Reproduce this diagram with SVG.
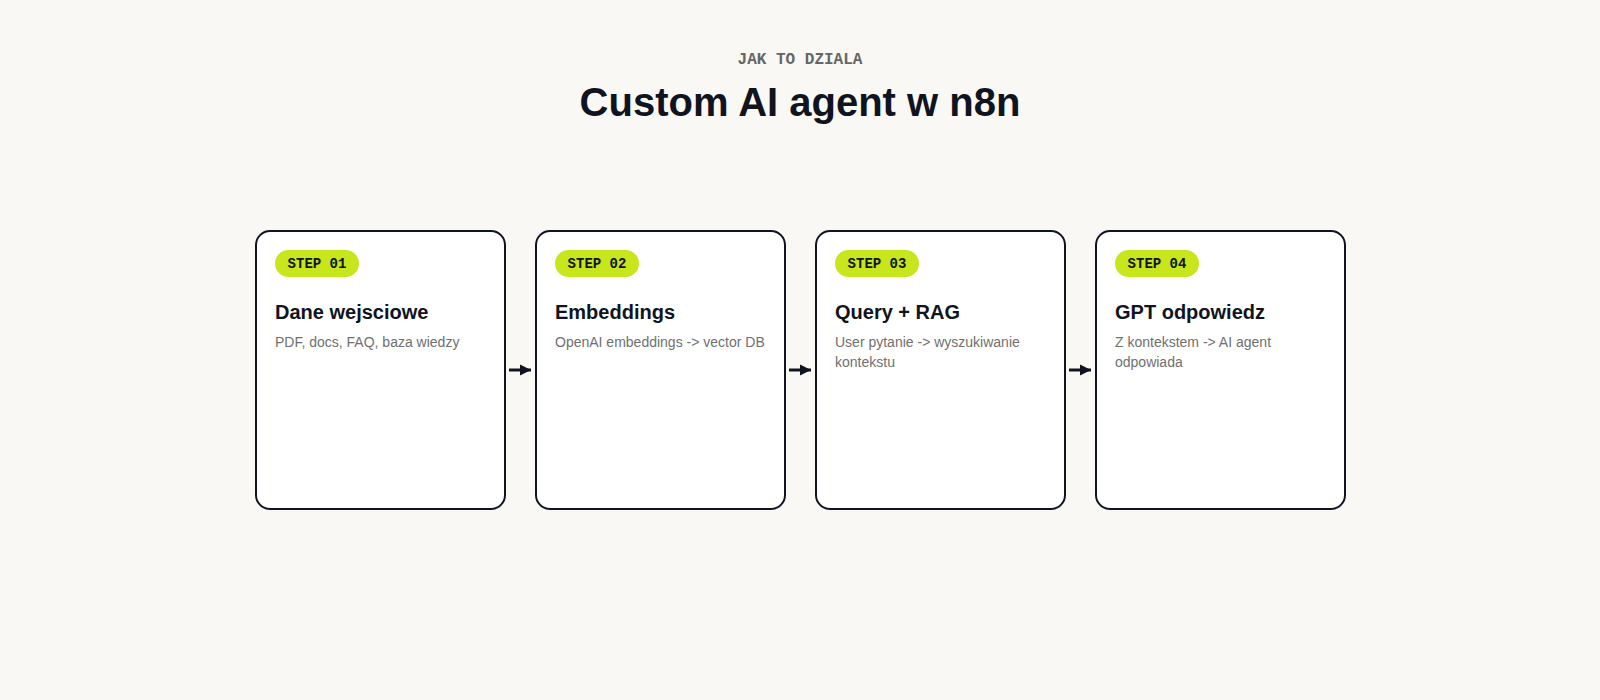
<svg xmlns="http://www.w3.org/2000/svg" width="1600" height="700" viewBox="0 0 1600 700">
<defs>
<style>
.card{fill:#ffffff;stroke:#0f1420;stroke-width:2}
.badge{fill:#c8e61c}
.badge-t{font-family:"Liberation Mono",monospace;font-weight:bold;font-size:14px;fill:#0f1420;text-anchor:middle}
.title{font-family:"Liberation Sans",Arial,sans-serif;font-weight:bold;font-size:20px;fill:#0f1420}
.desc{font-family:"Liberation Sans",Arial,sans-serif;font-size:14px;fill:#707070}
.conn{stroke:#0f1420;stroke-width:3;fill:none}
</style>
<marker id="ah" viewBox="0 0 10 10" refX="10" refY="5" markerWidth="11" markerHeight="12" markerUnits="userSpaceOnUse" orient="auto">
<path d="M0,0 L10,5 L0,10 Z" fill="#0f1420"/>
</marker>
</defs>
<rect width="1600" height="700" fill="#f9f8f4"/>
<text x="800" y="64" text-anchor="middle" font-family="Liberation Mono, monospace" font-weight="bold" font-size="16" fill="#666666">JAK TO DZIALA</text>
<text x="800" y="116" text-anchor="middle" font-family="Liberation Sans, Arial, sans-serif" font-weight="bold" font-size="40" fill="#0f1420">Custom AI agent w n8n</text>
<g id="connectors">
<line class="conn" x1="509" y1="370" x2="531" y2="370" marker-end="url(#ah)"/>
<line class="conn" x1="789" y1="370" x2="811" y2="370" marker-end="url(#ah)"/>
<line class="conn" x1="1069" y1="370" x2="1091" y2="370" marker-end="url(#ah)"/>
</g>
<g id="step1">
<rect class="card" x="256" y="231" width="249" height="278" rx="14"/>
<rect class="badge" x="275" y="250" width="84" height="27" rx="13.5"/>
<text class="badge-t" x="317" y="268">STEP 01</text>
<text class="title" x="275" y="319">Dane wejsciowe</text>
<text class="desc" x="275" y="347">PDF, docs, FAQ, baza wiedzy</text>
</g>
<g id="step2">
<rect class="card" x="536" y="231" width="249" height="278" rx="14"/>
<rect class="badge" x="555" y="250" width="84" height="27" rx="13.5"/>
<text class="badge-t" x="597" y="268">STEP 02</text>
<text class="title" x="555" y="319">Embeddings</text>
<text class="desc" x="555" y="347">OpenAI embeddings -&gt; vector DB</text>
</g>
<g id="step3">
<rect class="card" x="816" y="231" width="249" height="278" rx="14"/>
<rect class="badge" x="835" y="250" width="84" height="27" rx="13.5"/>
<text class="badge-t" x="877" y="268">STEP 03</text>
<text class="title" x="835" y="319">Query + RAG</text>
<text class="desc" x="835" y="347">User pytanie -&gt; wyszukiwanie</text>
<text class="desc" x="835" y="367">kontekstu</text>
</g>
<g id="step4">
<rect class="card" x="1096" y="231" width="249" height="278" rx="14"/>
<rect class="badge" x="1115" y="250" width="84" height="27" rx="13.5"/>
<text class="badge-t" x="1157" y="268">STEP 04</text>
<text class="title" x="1115" y="319">GPT odpowiedz</text>
<text class="desc" x="1115" y="347">Z kontekstem -&gt; AI agent</text>
<text class="desc" x="1115" y="367">odpowiada</text>
</g>
</svg>
